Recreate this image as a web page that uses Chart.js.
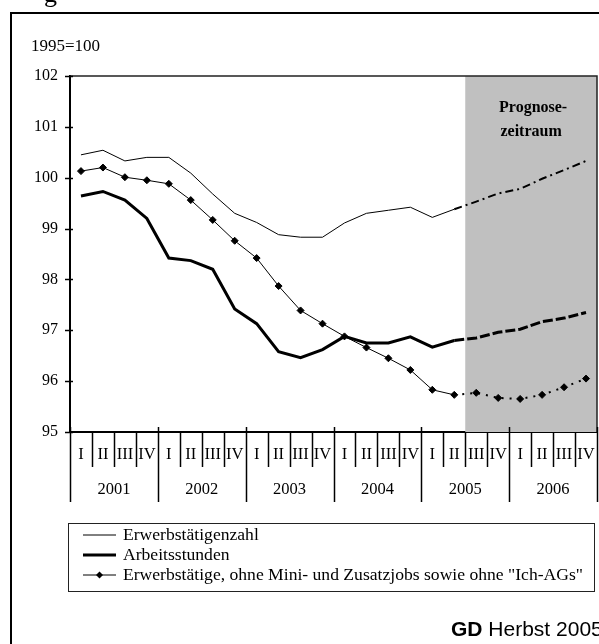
<!DOCTYPE html>
<html>
<head>
<meta charset="utf-8">
<script src="https://cdn.jsdelivr.net/npm/chart.js@4/dist/chart.umd.min.js"></script>
<style>
  html, body { margin: 0; padding: 0; background: #fff; overflow: hidden; }
</style>
</head>
<body>
<canvas id="myChart" width="599" height="644"></canvas>
<script>
const years = ['2001', '2002', '2003', '2004', '2005', '2006']
const quarters = ['I', 'II', 'III', 'IV']
const labels = years.flatMap(() => quarters)

const erwerbstaetige = [100.45, 100.54, 100.33, 100.40, 100.40, 100.09, 99.68, 99.30,
    99.12, 98.88, 98.83, 98.83, 99.11, 99.30, 99.36, 99.42,
    99.22, 99.38, 99.53, 99.69, 99.78, 99.98, 100.15, 100.33]
const arbeitsstunden = [99.64, 99.73, 99.56, 99.20, 98.42, 98.37, 98.20, 97.42,
    97.13, 96.58, 96.46, 96.62, 96.88, 96.75, 96.75, 96.87,
    96.67, 96.80, 96.85, 96.96, 97.02, 97.17, 97.24, 97.35]
const ohneMinijobs = [100.13, 100.20, 100.01, 99.95, 99.88, 99.56, 99.17, 98.76,
    98.42, 97.87, 97.39, 97.13, 96.88, 96.66, 96.45, 96.22,
    95.83, 95.73, 95.77, 95.67, 95.65, 95.73, 95.88, 96.05]

const seriesNames = ['Erwerbstätigenzahl', 'Arbeitsstunden',
    'Erwerbstätige, ohne Mini- und Zusatzjobs sowie ohne "Ich-AGs"']
const forecastFrom = 17   // letzter Ist-Wert: 2005 II
const serif = "'Liberation Serif', 'Times New Roman', serif"

const fc = (a, b) => ctx => ctx.p0DataIndex >= forecastFrom ? a : b

const framePlugin = {
    id: 'frame',
    beforeDatasetsDraw(chart) {
        const ctx = chart.ctx
        const area = chart.chartArea
        const x = chart.scales.x
        const xs = (x.getPixelForValue(forecastFrom) + x.getPixelForValue(forecastFrom + 1)) / 2
        ctx.save()
        ctx.fillStyle = '#c0c0c0'
        ctx.fillRect(xs, area.top, area.right - xs, area.bottom - area.top)
        ctx.fillStyle = '#000'
        ctx.font = 'bold 16px ' + serif
        ctx.textAlign = 'center'
        ctx.textBaseline = 'middle'
        const cx = (xs + area.right) / 2
        ctx.fillText('Prognose-', cx + 2, 108)
        ctx.fillText('zeitraum', cx, 132)
        ctx.restore()
    },
    afterDraw(chart) {
        const ctx = chart.ctx
        const area = chart.chartArea
        const y = chart.scales.y
        ctx.save()

        // outer frame and cut-off title
        ctx.strokeStyle = '#000'
        ctx.lineWidth = 2
        ctx.strokeRect(11, 13, 700, 700)
        ctx.fillStyle = '#000'
        ctx.font = '26px ' + serif
        ctx.textBaseline = 'alphabetic'
        ctx.textAlign = 'left'
        ctx.fillText('g', 44, 2)

        // unit label
        ctx.font = '17px ' + serif
        ctx.textBaseline = 'middle'
        ctx.fillText('1995=100', 31, 47)

        // plot border top / right
        ctx.strokeStyle = '#222'
        ctx.lineWidth = 1.5
        ctx.beginPath()
        ctx.moveTo(area.left, area.top)
        ctx.lineTo(area.right, area.top)
        ctx.lineTo(area.right, area.bottom)
        ctx.stroke()

        // y ticks crossing the axis
        ctx.strokeStyle = '#000'
        ctx.lineWidth = 1.5
        y.ticks.forEach(t => {
            const py = Math.round(y.getPixelForValue(t.value)) + 0.5
            ctx.beginPath()
            ctx.moveTo(area.left - 5, py)
            ctx.lineTo(area.left + 3, py)
            ctx.stroke()
        })

        // category separators and year labels
        const w = (area.right - area.left) / labels.length
        ctx.lineWidth = 1.5
        for (let i = 0; i <= labels.length; i++) {
            const px = Math.round(area.left + i * w) + 0.5
            ctx.beginPath()
            if (i % 4 === 0) {
                ctx.moveTo(px, area.bottom - 5)
                ctx.lineTo(px, area.bottom + 70)
            } else {
                ctx.moveTo(px, area.bottom)
                ctx.lineTo(px, area.bottom + 35)
            }
            ctx.stroke()
        }
        ctx.textAlign = 'center'
        ctx.font = '16.5px ' + serif
        years.forEach((yr, j) => {
            ctx.fillText(yr, area.left + (j * 4 + 2) * w, 490)
        })

        // legend
        ctx.strokeStyle = '#222'
        ctx.lineWidth = 1
        ctx.strokeRect(68.5, 523.5, 526, 68)
        ctx.textAlign = 'left'
        ctx.font = '17.6px ' + serif
        const rows = [535, 555, 575]
        chart.data.datasets.forEach((ds, k) => {
            const ry = rows[k]
            ctx.strokeStyle = '#000'
            ctx.lineWidth = ds.borderWidth
            ctx.beginPath()
            ctx.moveTo(83, ry)
            ctx.lineTo(116, ry)
            ctx.stroke()
            if (ds.pointRadius > 0) {
                ctx.beginPath()
                ctx.moveTo(99.5, ry - 3.5)
                ctx.lineTo(103, ry)
                ctx.lineTo(99.5, ry + 3.5)
                ctx.lineTo(96, ry)
                ctx.closePath()
                ctx.fill()
            }
            ctx.fillText(ds.label, 123, ry)
        })

        // source note
        ctx.font = "bold 21px 'Liberation Sans', Arial, sans-serif"
        ctx.textBaseline = 'alphabetic'
        ctx.fillText('GD', 451, 636)
        const gw = ctx.measureText('GD ').width
        ctx.font = "21px 'Liberation Sans', Arial, sans-serif"
        ctx.fillText('Herbst 2005', 451 + gw, 636)
        ctx.restore()
    }
}

const data = {
    labels: labels,
    datasets: [{
        label: seriesNames[0],
        data: erwerbstaetige,
        borderColor: '#000',
        borderWidth: 1,
        pointRadius: 0,
        segment: {
            borderDash: fc([8, 4, 2, 4], undefined),
            borderWidth: fc(2, 1)
        }
    }, {
        label: seriesNames[1],
        data: arbeitsstunden,
        borderColor: '#000',
        borderWidth: 3,
        pointRadius: 0,
        segment: {
            borderDash: fc([10, 3], undefined)
        }
    }, {
        label: seriesNames[2],
        data: ohneMinijobs,
        borderColor: '#000',
        backgroundColor: '#000',
        borderWidth: 1,
        pointStyle: 'rectRot',
        pointRadius: 3.5,
        segment: {
            borderDash: fc([2, 6], undefined),
            borderWidth: fc(2, 1)
        }
    }]
}

const config = {
    type: 'line',
    data: data,
    options: {
        responsive: false,
        animation: false,
        devicePixelRatio: 1,
        layout: { autoPadding: false, padding: { top: 76, right: 2, left: 0, bottom: 0 } },
        plugins: {
            legend: { display: false },
            tooltip: { enabled: false }
        },
        scales: {
            x: {
                offset: true,
                grid: { display: false, drawTicks: true, tickLength: 13 },
                border: { display: true, color: '#000', width: 2 },
                ticks: {
                    autoSkip: false,
                    maxRotation: 0,
                    padding: 0,
                    color: '#000',
                    font: { family: serif, size: 16.5 }
                },
                afterFit: s => {
                    s.height = 212
                    s.paddingLeft = 0
                    s.paddingRight = 0
                }
            },
            y: {
                min: 95,
                max: 102,
                ticks: {
                    stepSize: 1,
                    padding: 12,
                    color: '#000',
                    font: { family: serif, size: 16 }
                },
                grid: { display: false, drawTicks: false },
                border: { display: true, color: '#000', width: 2 },
                afterFit: s => { s.width = 70 }
            }
        }
    },
    plugins: [framePlugin]
}

var chart

window.addEventListener('DOMContentLoaded', () => {
    chart = new Chart(document.getElementById('myChart'), config)
})
</script>
</body>
</html>
